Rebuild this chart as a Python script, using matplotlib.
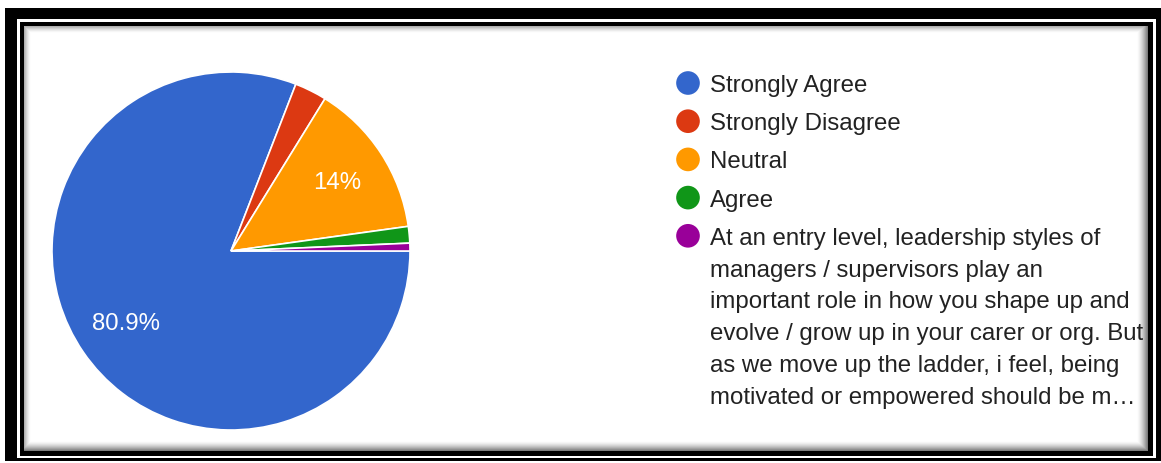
import numpy as np
import matplotlib
matplotlib.use("Agg")
import matplotlib.pyplot as plt
from matplotlib.patches import Rectangle

# ---- data ----
categories = [
    "Strongly Agree",
    "Strongly Disagree",
    "Neutral",
    "Agree",
    "At an entry level, leadership styles of\nmanagers / supervisors play an\nimportant role in how you shape up and\n"
    "evolve / grow up in your carer or org. But\nas we move up the ladder, i feel, being\nmotivated or empowered should be m\u2026",
]
values = [80.9, 2.9, 14.0, 1.5, 0.7]
colors = ["#3366cc", "#dc3912", "#ff9900", "#109618", "#990099"]

W, H = 1161, 464
FONT = "Liberation Sans"
fig = plt.figure(figsize=(W / 100, H / 100), dpi=100)
fig.patch.set_facecolor("white")

# ---- overlay axes in pixel coordinates (frame + legend) ----
ov = fig.add_axes([0, 0, 1, 1], zorder=0)
ov.set_xlim(0, W)
ov.set_ylim(H, 0)
ov.axis("off")

def rect(x0, y0, x1, y1, color):
    ov.add_patch(Rectangle((x0, y0), x1 - x0, y1 - y0, facecolor=color,
                           edgecolor="none", lw=0))

rect(5, 9, 1161, 462, "black")
rect(17, 20, 1156, 459, "white")
rect(20, 23, 1153, 457, "black")

# inner shadow as image
ix0, iy0, ix1, iy1 = 24, 27, 1148, 452
xs = np.arange(ix0, ix1) + 0.5
ys = np.arange(iy0, iy1) + 0.5
X, Y = np.meshgrid(xs, ys)
shade = np.ones_like(X)
def edge(d, w, s):
    return 1 - s * np.clip(1 - d / w, 0, 1) ** 1.5
shade = np.minimum(shade, edge(X - ix0, 7, 0.35))
shade = np.minimum(shade, edge(Y - iy0, 7, 0.35))
shade = np.minimum(shade, edge(ix1 - X, 11, 0.55))
shade = np.minimum(shade, edge(iy1 - Y, 10, 0.55))
ov.imshow(np.dstack([shade] * 3), extent=(ix0, ix1, iy1, iy0),
          interpolation="bilinear", aspect="auto", zorder=1)

# legend
lx_circle, lx_text = 688, 710
row_y = 84
row_step = 38.2
line_step = 31.8
y = row_y
for cat, col in zip(categories, colors):
    ov.scatter([lx_circle], [y], s=290, color=col, edgecolors="none", zorder=3)
    for j, line in enumerate(cat.split("\n")):
        ov.text(lx_text, y + 8 + j * line_step, line, fontsize=17.3,
                family=FONT, color="#222222", ha="left", va="baseline",
                zorder=3)
    y += row_step

# ---- pie ----
cx, cy, R = 231, 252, 179
ax = fig.add_axes([(cx - R) / W, (H - cy - R) / H, 2 * R / W, 2 * R / H],
                  zorder=2)
ax.patch.set_alpha(0)

def fmt(p):
    if p < 5:
        return ""
    s = f"{p:.1f}".rstrip("0").rstrip(".")
    return s + "%"

ax.pie(values, colors=colors, startangle=0, counterclock=False, radius=1,
       wedgeprops=dict(edgecolor="white", linewidth=1.2),
       autopct=fmt, pctdistance=0.71,
       textprops=dict(color="white", fontsize=17.3, family=FONT))
ax.set_xlim(-1, 1)
ax.set_ylim(-1, 1)
ax.set_aspect("equal")
ax.axis("off")

fig.savefig("out.png", dpi=100, facecolor="white")
